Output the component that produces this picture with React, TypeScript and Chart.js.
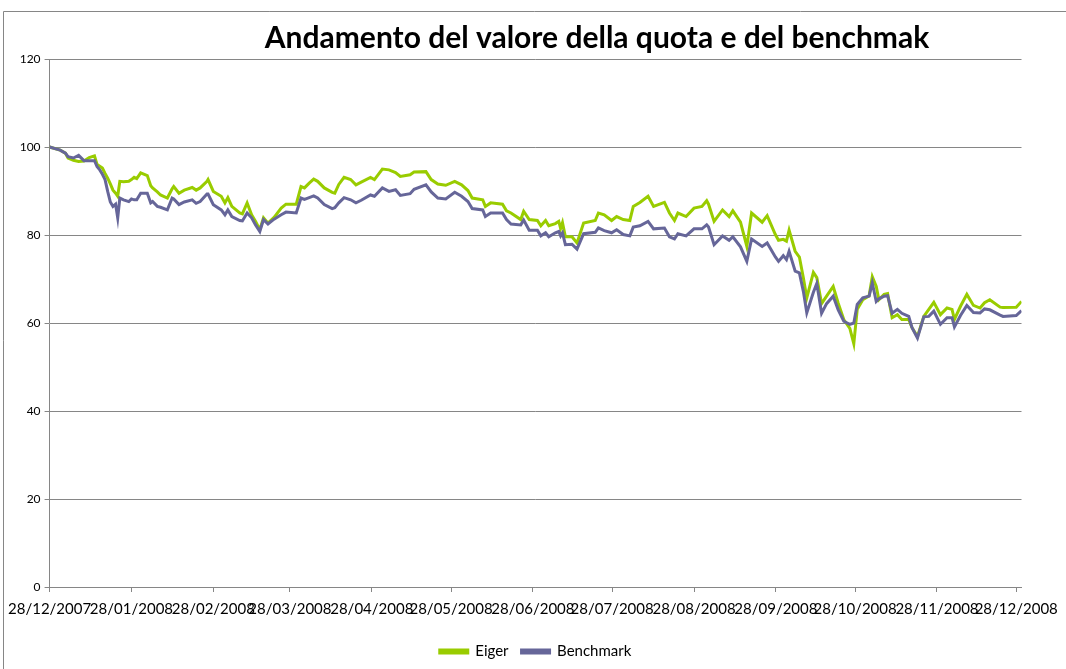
import React, { useEffect, useRef } from "react";
import { Chart, registerables } from "chart.js";

Chart.register(...registerables);

const titleText = "Andamento del valore della quota e del benchmak";

// Day offsets from 28/12/2007
const dayOffsets = [
  0, 4, 6, 7, 9, 11, 13, 15, 17, 18,
  19, 20, 21, 22, 23, 24, 25, 25.8, 26.6, 28,
  30, 31, 32, 33, 34.5, 37, 38.3, 39, 40.8, 42,
  44.6, 46.4, 47, 49, 51, 54, 55.5, 57, 59.6, 60,
  62, 65, 66.4, 67.5, 69, 72, 73, 74.8, 76.5, 78,
  79.6, 81, 82.7, 85, 87.7, 89.5, 93.4, 95.2, 96.5, 98.3,
  100, 101.5, 104, 107, 108, 109.5, 111.5, 114, 116, 118,
  121.5, 123, 126, 128.5, 131, 132.8, 136.5, 138, 142.5, 144.5,
  147, 150, 153.4, 156, 158.4, 160, 164, 165, 167, 171.5,
  173, 174.7, 178.4, 179.5, 181.6, 184.7, 186, 187.8, 189, 191.5,
  192.8, 193.5, 194.2, 195.3, 197.8, 199.7, 202.2, 206.6, 207.8, 210,
  212.8, 214.7, 217.2, 219.7, 221, 223.5, 226.6, 228.7, 232.8, 234.7,
  236.6, 237.9, 241, 244, 247, 248.8, 249.5, 251.6, 254.8, 257.3,
  258.7, 261.6, 264, 265.8, 269.8, 271.7, 274.8, 276, 277.8, 279,
  280, 282.3, 283.9, 285.4, 286.7, 289.2, 290.5, 292.3, 294.2, 296.7,
  298.6, 300.7, 303, 304.5, 305.8, 307.9, 310.3, 311.5, 313, 314,
  316, 317.3, 319, 321, 322.7, 325.3, 326.5, 328.6, 331, 332.9,
  334.8, 337.3, 339.8, 341.7, 342.6, 344.9, 347.3, 349.8, 352.3, 354,
  356, 359.9, 361, 366, 368,
];

const eigerValues = [
  100, 99.3, 98.6, 97.5, 97.0, 96.7, 96.8, 97.6, 98.0, 96.0,
  95.6, 95.2, 94.0, 92.9, 91.6, 90.2, 89.5, 88.8, 92.2, 92.1,
  92.2, 92.6, 93.1, 92.8, 94.1, 93.5, 91.2, 90.7, 89.8, 89.1,
  88.4, 90.5, 91.0, 89.5, 90.2, 90.8, 90.2, 90.7, 92.2, 92.6,
  89.9, 88.8, 87.3, 88.5, 86.5, 85.0, 84.8, 87.3, 84.6, 83.1,
  81.2, 83.9, 82.7, 84.0, 86.1, 87.0, 87.0, 91.0, 90.7, 91.8,
  92.7, 92.2, 90.7, 89.7, 89.5, 91.5, 93.1, 92.6, 91.4, 92.0,
  93.1, 92.6, 95.0, 94.8, 94.2, 93.3, 93.7, 94.3, 94.4, 92.6,
  91.6, 91.3, 92.2, 91.4, 90.1, 88.4, 88.0, 86.5, 87.3, 87.0,
  85.5, 85.0, 83.5, 85.4, 83.5, 83.3, 82.1, 83.3, 82.1, 82.6,
  83.1, 81.5, 82.8, 79.6, 79.6, 78.2, 82.7, 83.3, 85.0, 84.6,
  83.3, 84.2, 83.5, 83.3, 86.5, 87.4, 88.8, 86.5, 87.4, 85.0,
  83.3, 85.0, 84.2, 86.1, 86.5, 87.8, 87.0, 83.1, 85.7, 84.2,
  85.5, 82.9, 77.4, 85.0, 82.9, 84.4, 80.1, 78.8, 79.0, 78.6,
  81.1, 76.3, 75.0, 70.3, 65.7, 71.5, 70.3, 64.4, 66.1, 68.3,
  64.5, 60.8, 58.8, 55.3, 63.1, 65.3, 66.2, 70.5, 68.3, 65.3,
  66.5, 66.7, 61.2, 61.9, 60.8, 60.8, 59.0, 56.9, 61.5, 63.1,
  64.7, 61.9, 63.4, 63.1, 60.8, 63.8, 66.5, 64.0, 63.4, 64.6,
  65.3, 63.6, 63.5, 63.6, 64.9,
];

const benchmarkValues = [
  100, 99.3, 98.6, 97.8, 97.5, 98.1, 96.9, 96.9, 96.9, 95.5,
  94.8, 93.8, 92.6, 89.9, 87.5, 86.5, 87.0, 83.9, 88.4, 88.0,
  87.6, 88.2, 88.0, 88.0, 89.5, 89.5, 87.3, 87.6, 86.5, 86.3,
  85.7, 88.4, 88.2, 86.9, 87.5, 88.0, 87.2, 87.6, 89.3, 89.3,
  86.9, 85.7, 84.6, 85.7, 84.2, 83.3, 83.2, 85.0, 83.9, 82.3,
  80.8, 83.5, 82.5, 83.6, 84.6, 85.2, 85.0, 88.4, 88.1, 88.5,
  88.9, 88.4, 86.9, 86.0, 86.2, 87.3, 88.5, 88.0, 87.3, 87.9,
  89.1, 88.8, 90.7, 89.9, 90.3, 89.0, 89.4, 90.4, 91.4, 89.8,
  88.4, 88.2, 89.7, 88.8, 87.6, 86.0, 85.7, 84.2, 85.0, 85.0,
  83.5, 82.5, 82.3, 83.4, 81.1, 81.1, 79.8, 80.5, 79.6, 80.5,
  80.8, 79.8, 80.5, 77.8, 77.9, 76.8, 80.3, 80.6, 81.6, 81.0,
  80.5, 81.2, 80.1, 79.8, 81.8, 82.1, 83.1, 81.4, 81.6, 79.6,
  79.1, 80.3, 79.8, 81.4, 81.4, 82.3, 81.8, 77.8, 79.8, 78.8,
  79.6, 77.3, 74.0, 79.1, 77.4, 78.2, 75.0, 74.0, 75.3, 74.4,
  76.3, 71.8, 71.4, 67.2, 62.3, 67.0, 69.0, 62.2, 64.4, 66.1,
  63.0, 60.4, 59.7, 60.0, 64.2, 65.7, 66.1, 69.1, 64.9, 65.5,
  66.1, 66.2, 62.2, 63.1, 62.2, 61.5, 59.0, 56.6, 61.4, 61.5,
  62.7, 59.7, 61.2, 61.2, 59.1, 61.7, 64.0, 62.4, 62.3, 63.2,
  63.0, 61.8, 61.5, 61.7, 62.8,
];

const tickDays = [0, 31, 62, 91, 122, 152, 183, 213, 244, 275, 305, 336, 366];
const tickLabels = [
  "28/12/2007", "28/01/2008", "28/02/2008", "28/03/2008", "28/04/2008",
  "28/05/2008", "28/06/2008", "28/07/2008", "28/08/2008", "28/09/2008",
  "28/10/2008", "28/11/2008", "28/12/2008",
];

const seriesNames = ["Eiger", "Benchmark"];
const seriesColors = ["#99CC00", "#666699"];

export default function App() {
  const canvasRef = useRef<HTMLCanvasElement | null>(null);

  useEffect(() => {
    if (!canvasRef.current) return;
    const frame = {
      id: "frame",
      beforeDraw(chart: any) {
        const ctx = chart.ctx;
        ctx.save();
        ctx.strokeStyle = "#868686";
        ctx.lineWidth = 1;
        ctx.beginPath();
        ctx.moveTo(3.5, 669);
        ctx.lineTo(3.5, 11.5);
        ctx.lineTo(1066, 11.5);
        ctx.stroke();
        ctx.restore();
      },
    };
    const title = {
      id: "customTitle",
      afterDraw(chart: any) {
        const ctx = chart.ctx;
        ctx.save();
        ctx.font = "bold 30px Lato";
        ctx.fillStyle = "#000";
        ctx.textAlign = "center";
        ctx.textBaseline = "alphabetic";
        ctx.fillText(titleText, 597, 48);
        ctx.restore();
      },
    };
    const chart = new Chart(canvasRef.current, {
      type: "line",
      data: {
        datasets: [
          {
            label: seriesNames[0],
            data: dayOffsets.map((d, i) => ({ x: d, y: eigerValues[i] })),
            borderColor: seriesColors[0],
            backgroundColor: seriesColors[0],
            borderWidth: 3,
            pointRadius: 0,
            tension: 0,
            order: 1,
          },
          {
            label: seriesNames[1],
            data: dayOffsets.map((d, i) => ({ x: d, y: benchmarkValues[i] })),
            borderColor: seriesColors[1],
            backgroundColor: seriesColors[1],
            borderWidth: 3,
            pointRadius: 0,
            tension: 0,
            order: 0,
          },
        ],
      },
      options: {
        animation: false,
        responsive: true,
        maintainAspectRatio: false,
        events: [],
        layout: { padding: { top: 59, right: 38, bottom: 0, left: 0 } },
        plugins: {
          title: { display: false },
          tooltip: { enabled: false },
          legend: {
            display: true,
            position: "bottom",
            fullSize: false,
            labels: {
              boxWidth: 28,
              boxHeight: 3,
              padding: 13,
              color: "#000",
              font: { family: "Lato", size: 15 },
              sort: (a: any, b: any) => a.datasetIndex - b.datasetIndex,
            },
          },
        },
        scales: {
          x: {
            type: "linear",
            min: 0,
            max: 368,
            afterBuildTicks: (s: any) => {
              s.ticks = tickDays.map((v) => ({ value: v }));
            },
            afterFit: (s: any) => {
              s.height = 44;
            },
            grid: {
              drawOnChartArea: false,
              drawTicks: true,
              tickLength: 5,
              color: "#868686",
            },
            border: { display: true, color: "#868686" },
            ticks: {
              autoSkip: false,
              maxRotation: 0,
              minRotation: 0,
              padding: 8,
              color: "#000",
              font: { family: "Lato", size: 15 },
              callback: (_v: any, i: number) => tickLabels[i] ?? "",
            },
          },
          y: {
            min: 0,
            max: 120,
            afterFit: (s: any) => {
              s.width = 47;
            },
            grid: { color: "#868686", tickLength: 5 },
            border: { display: true, color: "#868686" },
            ticks: {
              stepSize: 20,
              padding: 4,
              color: "#000",
              font: { family: "Lato", size: 12 },
            },
          },
        },
      },
      plugins: [frame, title],
    });
    return () => chart.destroy();
  }, []);

  return (
    <div style={{ position: "fixed", left: 0, top: 0, width: 1066, height: 669, background: "#fff" }}>
      <canvas ref={canvasRef} />
    </div>
  );
}
